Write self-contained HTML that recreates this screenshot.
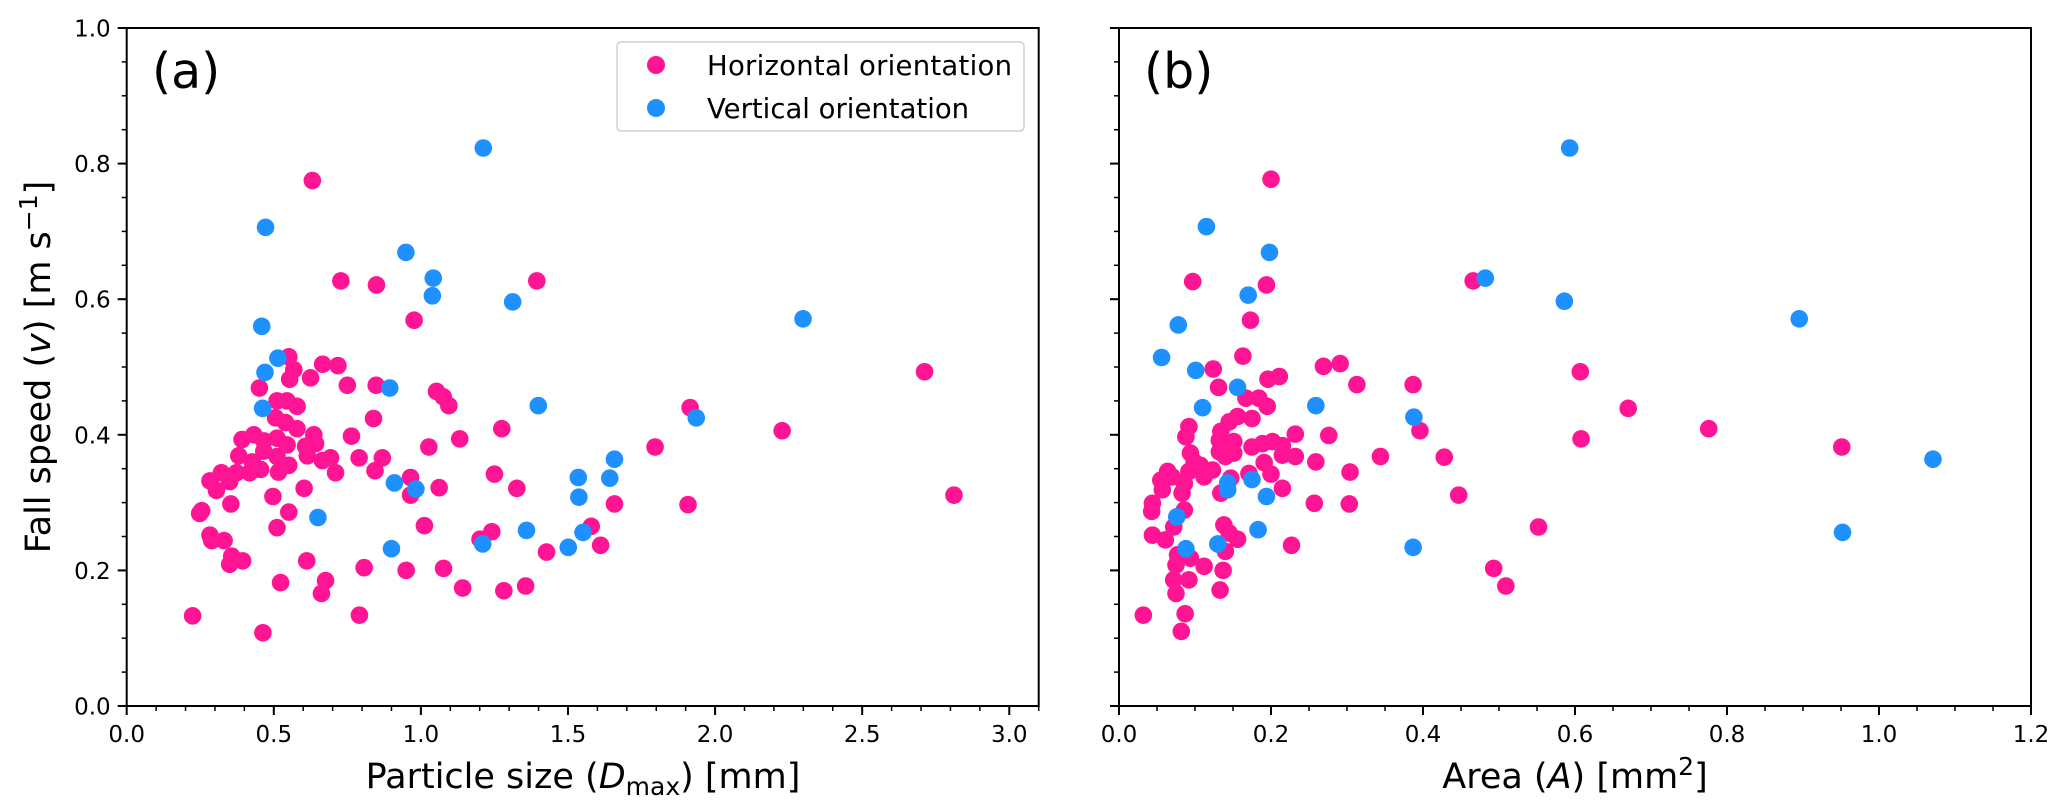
<!DOCTYPE html>
<html><head><meta charset="utf-8"><style>
html,body{margin:0;padding:0;background:#fff;}
svg{display:block;font-family:"DejaVu Sans","Liberation Sans",sans-serif;}
</style></head><body>
<svg id="chart" width="2067" height="812" viewBox="0 0 2067 812" xmlns="http://www.w3.org/2000/svg">
<rect width="2067" height="812" fill="#fff"/>
</svg>
<script>
// Panel (a): particle size Dmax [mm] vs fall speed [m/s]
const aHorizD = [0.631,0.728,0.849,0.224,0.463,0.551,0.568,0.554,0.625,0.666,0.718,0.75,0.848,0.451,0.511,0.545,0.579,0.839,0.506,0.54,0.579,0.636,0.764,0.392,0.432,0.466,0.511,0.545,0.608,0.642,0.614,0.665,0.693,0.79,0.869,0.71,0.844,0.381,0.427,0.466,0.511,0.455,0.516,0.551,0.418,0.373,0.35,0.322,0.283,0.305,0.603,0.497,0.354,0.255,0.248,0.511,0.551,0.283,0.289,0.331,0.357,0.35,0.394,0.612,0.807,0.523,0.676,0.662,0.791,1.394,0.977,1.053,1.076,1.095,1.275,1.132,1.027,1.915,2.228,2.712,2.812,1.796,1.908,1.658,0.965,0.965,1.062,1.250,1.326,1.579,1.611,1.427,1.241,1.201,1.012,0.950,1.077,1.142,1.282,1.356];
const aHorizV = [0.775,0.627,0.621,0.133,0.108,0.515,0.496,0.482,0.484,0.504,0.502,0.473,0.473,0.469,0.45,0.45,0.442,0.424,0.425,0.418,0.409,0.4,0.398,0.393,0.4,0.391,0.395,0.385,0.383,0.387,0.369,0.362,0.366,0.366,0.366,0.344,0.347,0.369,0.36,0.376,0.368,0.349,0.345,0.355,0.344,0.344,0.331,0.344,0.332,0.318,0.321,0.309,0.298,0.288,0.284,0.263,0.286,0.252,0.244,0.244,0.221,0.209,0.214,0.214,0.204,0.182,0.185,0.166,0.134,0.627,0.569,0.464,0.456,0.443,0.409,0.394,0.382,0.440,0.406,0.493,0.311,0.382,0.297,0.298,0.337,0.311,0.322,0.342,0.321,0.265,0.237,0.227,0.257,0.246,0.266,0.200,0.203,0.174,0.170,0.177];
const aVertD = [0.472,0.459,0.514,0.47,0.462,0.65,1.212,0.949,1.042,1.039,1.312,2.299,0.894,1.399,1.936,1.658,1.535,1.642,1.537,0.910,0.983,1.359,1.551,1.210,1.501,0.900];
const aVertV = [0.706,0.56,0.513,0.492,0.439,0.278,0.823,0.669,0.631,0.605,0.596,0.571,0.469,0.443,0.425,0.364,0.337,0.336,0.308,0.329,0.320,0.259,0.256,0.239,0.234,0.232];
// Panel (b): area A [mm^2] vs fall speed
const bHorizA = [0.097,0.194,0.173,0.163,0.124,0.269,0.291,0.313,0.387,0.196,0.211,0.131,0.167,0.184,0.195,0.175,0.156,0.145,0.092,0.088,0.134,0.132,0.145,0.151,0.132,0.140,0.151,0.232,0.276,0.396,0.175,0.189,0.202,0.215,0.215,0.232,0.259,0.344,0.428,0.094,0.099,0.107,0.123,0.092,0.112,0.064,0.055,0.070,0.086,0.057,0.083,0.171,0.191,0.200,0.147,0.304,0.215,0.134,0.044,0.043,0.086,0.257,0.303,0.072,0.044,0.061,0.138,0.145,0.156,0.140,0.227,0.077,0.094,0.112,0.075,0.137,0.072,0.092,0.075,0.133,0.032,0.087,0.082,0.200,0.466,0.607,0.670,0.608,0.447,0.552,0.493,0.509,0.776,0.951];
const bHorizV = [0.626,0.621,0.569,0.516,0.497,0.501,0.505,0.474,0.474,0.482,0.486,0.470,0.454,0.454,0.442,0.424,0.427,0.419,0.412,0.397,0.405,0.392,0.387,0.390,0.375,0.368,0.373,0.401,0.399,0.406,0.382,0.387,0.390,0.384,0.370,0.368,0.360,0.368,0.367,0.373,0.360,0.355,0.348,0.346,0.338,0.346,0.333,0.338,0.328,0.319,0.314,0.343,0.359,0.342,0.336,0.345,0.321,0.314,0.299,0.287,0.289,0.299,0.298,0.264,0.252,0.245,0.267,0.255,0.246,0.228,0.237,0.223,0.218,0.206,0.208,0.200,0.186,0.186,0.166,0.171,0.134,0.136,0.110,0.777,0.627,0.493,0.439,0.394,0.311,0.264,0.203,0.177,0.409,0.382];
const bVertA = [0.170,0.078,0.056,0.101,0.156,0.110,0.259,0.388,0.143,0.143,0.175,0.194,0.076,0.183,0.088,0.130,0.387,0.593,0.115,0.198,0.482,0.586,0.895,1.071,0.952];
const bVertV = [0.606,0.562,0.514,0.495,0.470,0.440,0.443,0.426,0.329,0.319,0.334,0.309,0.279,0.260,0.232,0.239,0.234,0.823,0.707,0.669,0.631,0.597,0.571,0.364,0.256];
const yTicks = ["0.0","0.2","0.4","0.6","0.8","1.0"];
const aXTicks = ["0.0","0.5","1.0","1.5","2.0","2.5","3.0"];
const bXTicks = ["0.0","0.2","0.4","0.6","0.8","1.0","1.2"];

const NS = "http://www.w3.org/2000/svg";
const svg = document.getElementById('chart');
const PINK = "#ff1493", BLUE = "#1e90ff";
const Y0 = 706, Y1 = 28;
const yScale = v => Y0 + (Y1 - Y0) * v;
const panelA = {left:126.7, right:1038.7, xmin:0, xmax:3.1};
const panelB = {left:1119, right:2031, xmin:0, xmax:1.2};
function xs(p, v){ return p.left + (v - p.xmin) / (p.xmax - p.xmin) * (p.right - p.left); }
function mk(tag, attrs, parent){
  const e = document.createElementNS(NS, tag);
  for (const k in attrs) e.setAttribute(k, attrs[k]);
  (parent || svg).appendChild(e);
  return e;
}

function drawPanel(p, tickLabels, tickStep, minorStep, showYLabels, name){
  const g = mk('g', {});
  
  
  tickLabels.forEach((lab, i) => {
    const x = xs(p, i * tickStep);
    const t = mk('line', {x1:x, x2:x, y1:Y0, y2:Y0+9, stroke:'#000', 'stroke-width':2}, g);
    
    
    const tx = mk('text', {x:x, y:742, 'font-size':23, 'text-anchor':'middle', fill:'#000'}, g);
    tx.textContent = lab;
    
    
  });
  const nMinor = Math.round((p.xmax - p.xmin) / minorStep + 1e-6);
  for (let i = 0; i <= nMinor; i++) {
    const x = xs(p, i * minorStep);
    if (x > p.right + 0.5) break;
    const m = mk('line', {x1:x, x2:x, y1:Y0, y2:Y0+5, stroke:'#000', 'stroke-width':1.5}, g);
    
    
  }
  yTicks.forEach((lab, i) => {
    const y = yScale(i * 0.2);
    const t = mk('line', {x1:p.left-9, x2:p.left, y1:y, y2:y, stroke:'#000', 'stroke-width':2}, g);
    
    
    if (showYLabels) {
      const tx = mk('text', {x:p.left-16, y:y+8.5, 'font-size':23, 'text-anchor':'end', fill:'#000'}, g);
      tx.textContent = lab;
      
      
    }
  });
  for (let i = 0; i <= 20; i++) {
    const y = yScale(i * 0.05);
    const m = mk('line', {x1:p.left-5, x2:p.left, y1:y, y2:y, stroke:'#000', 'stroke-width':1.5}, g);
    
    
  }
  return g;
}
function scatter(p, xsArr, ysArr, color, name){
  const g = mk('g', {});
  
  
  for (let i = 0; i < xsArr.length; i++) {
    const c = mk('circle', {cx:xs(p, xsArr[i]), cy:yScale(ysArr[i]), r:8.8, fill:color}, g);
    
    
  }
}

drawPanel(panelA, aXTicks, 0.5, 0.1, true, 'panel-a-axes');
drawPanel(panelB, bXTicks, 0.2, 0.05, false, 'panel-b-axes');
scatter(panelA, aHorizD, aHorizV, PINK, 'panel-a-horizontal-series');
scatter(panelA, aVertD, aVertV, BLUE, 'panel-a-vertical-series');
scatter(panelB, bHorizA, bHorizV, PINK, 'panel-b-horizontal-series');
scatter(panelB, bVertA, bVertV, BLUE, 'panel-b-vertical-series');

[panelA, panelB].forEach((p, i) => {
  const r = mk('rect', {x:p.left, y:Y1, width:p.right-p.left, height:Y0-Y1, fill:'none', stroke:'#000', 'stroke-width':2});
  
  
});
</script>
<svg width="2067" height="812" style="position:absolute;left:0;top:0;font-family:'DejaVu Sans','Liberation Sans',sans-serif">
  <text x="152" y="88" font-size="49">(a)</text>
  <text x="1144" y="88" font-size="49">(b)</text>
  <g>
    <rect x="617" y="42" width="407" height="89" rx="4" fill="#fff" fill-opacity="0.8" stroke="#d0d0d0" stroke-width="1.5"/>
    <circle cx="656" cy="65" r="9" fill="#ff1493"/>
    <text x="707" y="75" font-size="27.5" textLength="305">Horizontal orientation</text>
    <circle cx="656" cy="108" r="9" fill="#1e90ff"/>
    <text x="707" y="118" font-size="27.5">Vertical orientation</text>
  </g>
  <text x="583" y="788" font-size="35" text-anchor="middle">Particle size (<tspan font-style="italic">D</tspan><tspan font-size="25" dy="7">max</tspan><tspan dy="-7">) [mm]</tspan></text>
  <text x="1575" y="788" font-size="35" text-anchor="middle">Area (<tspan font-style="italic">A</tspan>) [mm<tspan font-size="25" dy="-13">2</tspan><tspan dy="13">]</tspan></text>
  <text transform="translate(50,367) rotate(-90)" font-size="35" text-anchor="middle">Fall speed (<tspan font-style="italic">v</tspan>) [m s<tspan font-size="25" dy="-13">−1</tspan><tspan dy="13">]</tspan></text>
</svg>
</body></html>
